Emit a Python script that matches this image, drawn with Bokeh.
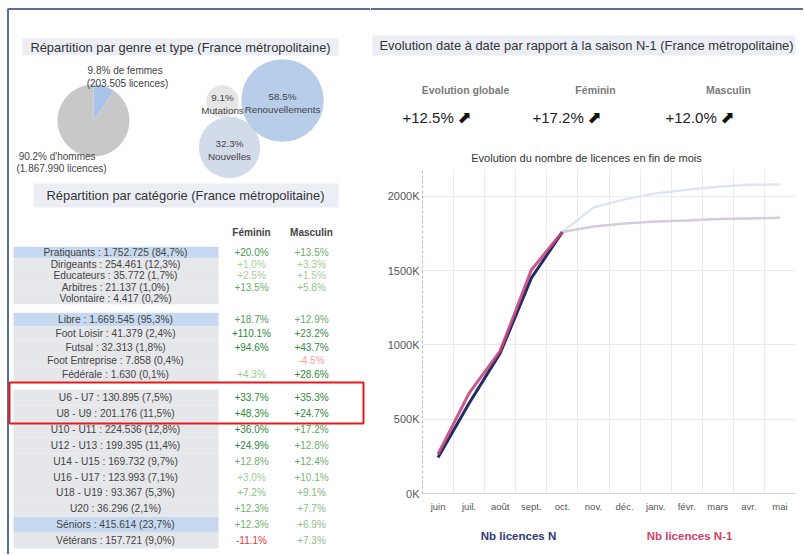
import math
from bokeh.plotting import figure
from bokeh.models import (Range1d, FactorRange, FixedTicker, PrintfTickFormatter,
                          ColumnDataSource)
from bokeh.layouts import row, column
from bokeh.core.properties import value
from bokeh.embed import file_html
from bokeh.resources import INLINE

# ---------------- DATA ----------------
gender_labels = ["de femmes", "d'hommes"]
gender_pcts = [9.8, 90.2]
gender_counts = [203505, 1867990]

type_names = ["Renouvellements", "Nouvelles", "Mutations"]
type_pcts = [58.5, 32.3, 9.1]

g1_names = ["Pratiquants", "Dirigeants", "Educateurs", "Arbitres", "Volontaire"]
g1_counts = [1752725, 254461, 35772, 21137, 4417]
g1_pcts = [84.7, 12.3, 1.7, 1.0, 0.2]
g1_fem = [20.0, 1.0, 2.5, 13.5, None]
g1_mas = [13.5, 3.3, 1.5, 5.8, None]

g2_names = ["Libre", "Foot Loisir", "Futsal", "Foot Entreprise", "Fédérale"]
g2_counts = [1669545, 41379, 32313, 7858, 1630]
g2_pcts = [95.3, 2.4, 1.8, 0.4, 0.1]
g2_fem = [18.7, 110.1, 94.6, None, 4.3]
g2_mas = [12.9, 23.2, 43.7, -4.5, 28.6]

g3_names = ["U6 - U7", "U8 - U9", "U10 - U11", "U12 - U13", "U14 - U15",
            "U16 - U17", "U18 - U19", "U20", "Séniors", "Vétérans"]
g3_counts = [130895, 201176, 224536, 199395, 169732, 123993, 93367, 36296, 415614, 157721]
g3_pcts = [7.5, 11.5, 12.8, 11.4, 9.7, 7.1, 5.3, 2.1, 23.7, 9.0]
g3_fem = [33.7, 48.3, 36.0, 24.9, 12.8, 3.0, 7.2, 12.3, 12.3, -11.1]
g3_mas = [35.3, 24.7, 17.2, 12.8, 12.4, 10.1, 9.1, 7.7, 6.9, 7.3]

highlighted = {"Pratiquants", "Libre", "Séniors"}
col_headers = ["Féminin", "Masculin"]

kpi_labels = ["Evolution globale", "Féminin", "Masculin"]
kpi_values = [12.5, 17.2, 12.0]

months = ["juin", "juil.", "août", "sept.", "oct.", "nov.", "déc.", "janv.",
          "févr.", "mars", "avr.", "mai"]
n_vals = [243, 608, 945, 1450, 1760, 1926, 1980, 2020, 2045, 2065, 2078, 2080]      # K
n1_vals = [264, 676, 960, 1505, 1760, 1797, 1818, 1831, 1838, 1848, 1852, 1856]    # K
series_names = ["Nb licences N", "Nb licences N-1"]

# ---------------- STYLE / HELPERS ----------------
FONT_NAME = "Liberation Sans"
FONT = value(FONT_NAME)
TITLE_BG = "#eceef6"
FRAME = "#5a6e98"


def base_fig(w, h, x0, x1, y0, y1):
    p = figure(width=w, height=h, x_range=Range1d(x0, x1), y_range=Range1d(-y1, -y0),
               output_backend="svg", toolbar_location=None,
               x_axis_location=None, y_axis_location=None, min_border=0,
               outline_line_color=None)
    p.grid.visible = False
    p.background_fill_color = "white"
    p.border_fill_color = "white"
    return p


def txt(p, x, y, s, size, color="#333333", align="center", style="normal", font=FONT):
    p.text(x=[x], y=[-y], text=[s], text_align=align, text_baseline="middle",
           text_font=font, text_font_size=size, text_color=color, text_font_style=style)


def fmt_count(c):
    return f"{c:,}".replace(",", ".")


def fmt_pct_fr(v):
    return f"{v:.1f}".replace(".", ",") + "%"


def val_color(v):
    if v < 0:
        return "#e03a3a" if v < -8 else "#eaa5a5"
    t = min(v / 25.0, 1.0)
    lo = (178, 214, 160)
    hi = (44, 138, 58)
    c = tuple(int(lo[k] + (hi[k] - lo[k]) * t) for k in range(3))
    return "#%02x%02x%02x" % c


# ---------------- LEFT PANEL ----------------
pl = base_fig(370, 554, 0, 370, 0, 554)
pl.line([7.5, 7.5, 370], [-554, -8.5, -8.5], line_color=FRAME, line_width=2)

pl.quad(left=[22], right=[338], top=[-38], bottom=[-55], fill_color=TITLE_BG, line_color=None)
txt(pl, 180, 46.5, "Répartition par genre et type (France métropolitaine)", "12.9px")

# pie
pie_cx, pie_cy, pie_r = 93, 120, 36
starts, ends = [], []
acc = 0.0
for v in gender_pcts:
    a0 = math.pi / 2 - acc / 100 * 2 * math.pi
    acc += v
    a1 = math.pi / 2 - acc / 100 * 2 * math.pi
    starts.append(a0)
    ends.append(a1)
pl.wedge(x=[pie_cx] * 2, y=[-pie_cy] * 2, radius=pie_r, start_angle=starts, end_angle=ends,
         direction="clock", fill_color=["#a9c4e8", "#c8c8c8"], line_color=None)
txt(pl, 126, 70, f"{gender_pcts[0]:.1f}%  {gender_labels[0]}", "10px", "#444")
txt(pl, 127, 83, f"({fmt_count(gender_counts[0])} licences)", "10px", "#444")
txt(pl, 58, 156, f"{gender_pcts[1]:.1f}%  {gender_labels[1]}", "10px", "#444")
txt(pl, 61, 168, f"({fmt_count(gender_counts[1])} licences)", "10px", "#444")

# bubbles
bub_pos = {"Renouvellements": (282, 100), "Nouvelles": (229, 147), "Mutations": (222, 101)}
bub_col = {"Renouvellements": "#b7cdea", "Nouvelles": "#d2dbe9", "Mutations": "#e5e5e5"}
order = [2, 1, 0]
pl.circle(x=[bub_pos[type_names[i]][0] for i in order],
          y=[-bub_pos[type_names[i]][1] for i in order],
          radius=[5.4 * math.sqrt(type_pcts[i]) for i in order],
          fill_color=[bub_col[type_names[i]] for i in order], line_color=None)
for i in order:
    cx, cy = bub_pos[type_names[i]]
    txt(pl, cx, cy - 4, f"{type_pcts[i]:.1f}%", "9.8px", "#444")
    txt(pl, cx, cy + 9, type_names[i], "9.8px", "#444")

pl.quad(left=[33], right=[338], top=[-183], bottom=[-207], fill_color=TITLE_BG, line_color=None)
txt(pl, 185, 195, "Répartition par catégorie (France métropolitaine)", "12.9px")

col_x = [251, 311]
for cx, h in zip(col_x, col_headers):
    txt(pl, cx, 232, h, "10px", "#444", style="bold")

groups = [
    (g1_names, g1_counts, g1_pcts, g1_fem, g1_mas),
    (g2_names, g2_counts, g2_pcts, g2_fem, g2_mas),
    (g3_names, g3_counts, g3_pcts, g3_fem, g3_mas),
]
group_layout = [(252, 11.5), (319, 13.75), (397, 15.9)]

bg = dict(left=[], right=[], top=[], bottom=[], color=[])
lab = dict(x=[], y=[], text=[])
vals = dict(x=[], y=[], text=[], color=[])
for (names, counts, pcts, fem, mas), (y0, step) in zip(groups, group_layout):
    for i, name in enumerate(names):
        yc = y0 + i * step
        bg["left"].append(13)
        bg["right"].append(218)
        bg["top"].append(-(yc - step / 2))
        bg["bottom"].append(-(yc + step / 2))
        bg["color"].append("#c6d9f1" if name in highlighted else "#e6e7ea")
        lab["x"].append(115)
        lab["y"].append(-yc)
        lab["text"].append(f"{name} : {fmt_count(counts[i])} ({fmt_pct_fr(pcts[i])})")
        for cx, v in zip(col_x, (fem[i], mas[i])):
            if v is None:
                continue
            vals["x"].append(cx)
            vals["y"].append(-yc)
            vals["text"].append(f"{v:+.1f}%")
            vals["color"].append(val_color(v))

pl.quad(left="left", right="right", top="top", bottom="bottom", fill_color="color",
        line_color=None, source=ColumnDataSource(bg))
pl.text(x="x", y="y", text="text", source=ColumnDataSource(lab), text_align="center",
        text_baseline="middle", text_font=FONT, text_font_size="10.2px", text_color="#444444")
pl.text(x="x", y="y", text="text", text_color="color", source=ColumnDataSource(vals),
        text_align="center", text_baseline="middle", text_font=FONT, text_font_size="10px")

pl.quad(left=[9], right=[363], top=[-382], bottom=[-423], fill_color=None,
        line_color="#e3191c", line_width=2)

# ---------------- RIGHT COLUMN ----------------
RW = 433

# KPI header
pk = base_fig(RW, 165, 370, 803, 0, 165)
pk.line([370, 803], [-8.5, -8.5], line_color=FRAME, line_width=2)
pk.quad(left=[372], right=[795], top=[-35], bottom=[-55], fill_color=TITLE_BG, line_color=None)
txt(pk, 586, 45, "Evolution date à date par rapport à la saison N-1 (France métropolitaine)", "12.9px")
kpi_cx = [465, 595, 728]
for cx, name, v in zip(kpi_cx, kpi_labels, kpi_values):
    txt(pk, cx, 89, name, "10.5px", "#7a7a7a", style="bold")
    txt(pk, cx - 63, 117, f"{v:+.1f}%", "15px", "#222222", align="left")
    txt(pk, cx - 8, 116, "⬈", "17px", "#111111", align="left", font=value("DejaVu Sans"))
txt(pk, 586, 157, "Evolution du nombre de licences en fin de mois", "11px", "#333333")

# line chart
pc = figure(width=RW, height=350, x_range=FactorRange(*months), y_range=Range1d(0, 2188),
            output_backend="svg", toolbar_location=None,
            min_border_left=52, min_border_right=8, min_border_top=3, min_border_bottom=22,
            outline_line_color=None)
pc.background_fill_color = "white"
pc.border_fill_color = "white"

pc.yaxis.ticker = FixedTicker(ticks=[0, 500, 1000, 1500, 2000])
pc.yaxis.formatter = PrintfTickFormatter(format="%dK")
pc.yaxis.axis_line_dash = "3 2"
pc.yaxis.axis_line_color = "#bdbdbd"
pc.xaxis.axis_line_color = "#cfcfcf"
for ax in (pc.xaxis, pc.yaxis):
    ax.major_tick_line_color = None
    ax.minor_tick_line_color = None
    ax.major_tick_out = 0
    ax.major_tick_in = 0
    ax.minor_tick_out = 0
    ax.major_label_text_font = FONT_NAME
    ax.major_label_text_color = "#555555"
pc.xaxis.major_label_text_font_size = "9.5px"
pc.yaxis.major_label_text_font_size = "11px"
pc.yaxis.major_label_standoff = 3
pc.xaxis.major_label_standoff = 7

pc.ygrid.ticker = FixedTicker(ticks=[500, 1000, 1500, 2000])
pc.ygrid.grid_line_color = "#ebebeb"
pc.xgrid.ticker = FixedTicker(ticks=list(range(1, 12)))
pc.xgrid.grid_line_color = "#ebebeb"

pc.line(months[4:], n_vals[4:], line_color="#dee6f6", line_width=2.5)
pc.line(months[4:], n1_vals[4:], line_color="#d6cadc", line_width=2.5)
pc.line(months[:5], n_vals[:5], line_color="#1f2c66", line_width=3)
pc.line(months[:5], n1_vals[:5], line_color="#c8457a", line_width=3, line_alpha=0.9)

# legend
pg = base_fig(RW, 39, 370, 803, 515, 554)
txt(pg, 518, 535, series_names[0], "11.5px", "#2b3a7a", style="bold")
txt(pg, 689, 535, series_names[1], "11.5px", "#d0406e", style="bold")

layout = row(pl, column(pk, row(pc), pg))
open("out.html", "w").write(file_html(layout, INLINE))
